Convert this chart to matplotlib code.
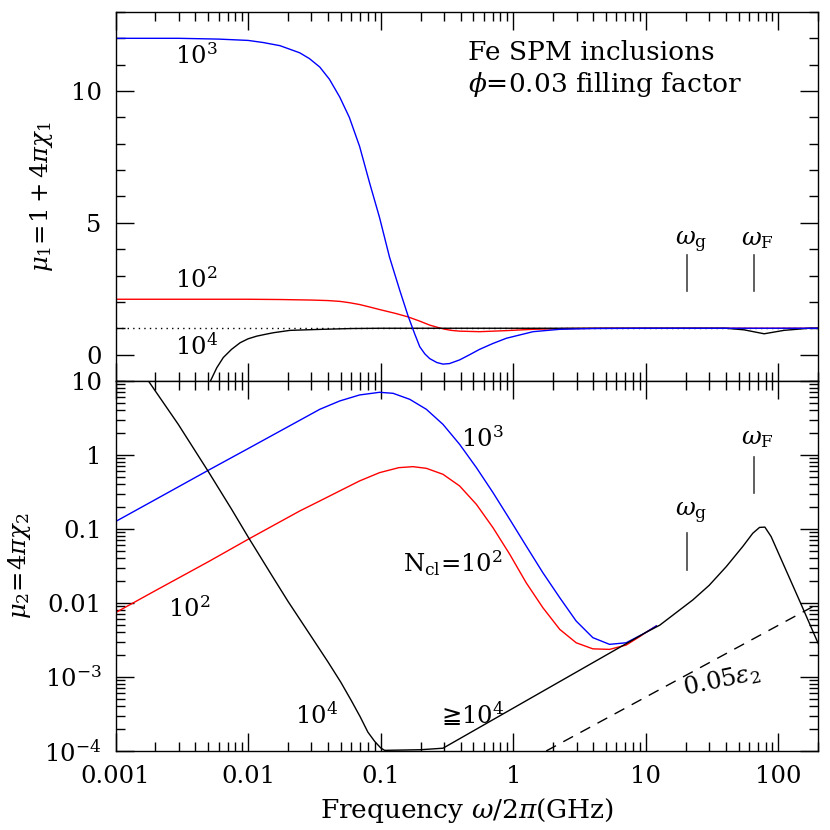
import numpy as np
import matplotlib
matplotlib.use("Agg")
import matplotlib.pyplot as plt
from matplotlib.ticker import LogLocator, MultipleLocator, NullFormatter

plt.rcParams["font.family"] = ["DejaVu Serif", "DejaVu Sans"]
plt.rcParams["mathtext.fontset"] = "dejavuserif"

# ---- data (frequency in GHz) ----
# upper panel: mu_1
top_blue_f = [0.001, 0.003, 0.006, 0.01, 0.013, 0.0174, 0.02, 0.0245, 0.029, 0.0347, 0.041,
              0.0491, 0.058, 0.0693, 0.0826, 0.098, 0.1165, 0.139, 0.161, 0.18, 0.197,
              0.215, 0.234, 0.265, 0.295, 0.33, 0.394, 0.47, 0.557, 0.7, 0.886, 1.41,
              2.24, 4.0, 10, 200]
top_blue_v = [12.0, 12.0, 11.97, 11.92, 11.84, 11.72, 11.61, 11.45, 11.23, 10.91, 10.45,
              9.77, 9.0, 7.9, 6.5, 5.2, 3.7, 2.45, 1.46, 0.8, 0.3,
              0.03, -0.15, -0.3, -0.36, -0.34, -0.2, 0.0, 0.2, 0.42, 0.62, 0.87,
              0.96, 0.99, 1.0, 1.0]

top_red_f = [0.001, 0.01, 0.0174, 0.03, 0.04, 0.0491, 0.058, 0.0693, 0.082, 0.098, 0.13,
             0.161, 0.197, 0.234, 0.27, 0.3, 0.34, 0.394, 0.557, 0.886, 1.41, 2.5, 5.0, 200]
top_red_v = [2.1, 2.1, 2.09, 2.07, 2.05, 2.02, 1.97, 1.9, 1.81, 1.71, 1.56,
             1.43, 1.27, 1.12, 1.03, 0.97, 0.92, 0.89, 0.87, 0.91, 0.96, 0.99, 1.0, 1.0]

top_black_f = [0.0052, 0.0058, 0.0065, 0.0075, 0.0087, 0.01, 0.0116, 0.0135, 0.0155, 0.0207,
               0.0365, 0.06, 0.1, 40, 55, 78, 110, 170, 200]
top_black_v = [-1.0, -0.5, -0.11, 0.2, 0.45, 0.6, 0.70, 0.77, 0.83, 0.92,
               0.96, 0.99, 1.0, 1.0, 0.94, 0.79, 0.92, 1.0, 1.0]

# lower panel: mu_2
bot_blue_f = [0.001, 0.002, 0.005, 0.01, 0.0245, 0.0347, 0.0491, 0.0693, 0.098, 0.124,
              0.1656, 0.221, 0.295, 0.394, 0.527, 0.703, 0.94, 1.25, 1.67, 2.24, 2.98,
              3.98, 5.32, 7.1, 8.96, 10, 12]
bot_blue_v = [0.126, 0.25, 0.62, 1.22, 2.94, 4.14, 5.37, 6.47, 7.03, 6.81,
              5.65, 4.14, 2.59, 1.39, 0.674, 0.31, 0.135, 0.059, 0.0257, 0.0118, 0.0057,
              0.0034, 0.00276, 0.0029, 0.0036, 0.004, 0.0049]

bot_red_f = [0.001, 0.002, 0.005, 0.01, 0.0245, 0.0347, 0.0491, 0.0693, 0.098, 0.137,
             0.175, 0.221, 0.295, 0.394, 0.527, 0.703, 0.94, 1.25, 1.67, 2.24, 2.98,
             3.98, 5.32, 7.1, 8.96, 10, 12]
bot_red_v = [0.0074, 0.0147, 0.036, 0.0725, 0.175, 0.239, 0.327, 0.446, 0.577, 0.674,
             0.695, 0.66, 0.548, 0.381, 0.215, 0.104, 0.0455, 0.0188, 0.00865, 0.0044,
             0.0029, 0.0024, 0.00236, 0.0027, 0.0035, 0.004, 0.0049]

bot_black_f = [0.00177, 0.00297, 0.005, 0.0075, 0.01, 0.015, 0.02, 0.03, 0.04, 0.05,
               0.06, 0.07, 0.08, 0.09, 0.1, 0.107, 0.2, 0.295, 4.48, 10,
               12.7, 22.6, 30, 40.4, 53.8, 64, 72, 79, 88, 146, 200]
bot_black_v = [10, 2.6, 0.6, 0.185, 0.078, 0.024, 0.0105, 0.0035, 0.0016, 8.5e-4,
               4.8e-4, 2.9e-4, 1.8e-4, 1.35e-4, 1.1e-4, 1.02e-4, 1.04e-4, 1.09e-4,
               0.00176, 0.004, 0.005, 0.011, 0.0173, 0.031, 0.058,
               0.0875, 0.105, 0.106, 0.079, 0.0102, 0.0028]

eps_f = [1.77, 200]
eps_v = [1e-4, 0.0098]

omega_g = 20.6
omega_F = 65.0

x_ticks = [0.001, 0.01, 0.1, 1, 10, 100]
x_tick_labels = ["0.001", "0.01", "0.1", "1", "10", "100"]
top_y_ticks = [0, 5, 10]
top_y_tick_labels = ["0", "5", "10"]
bot_y_ticks = [1e-4, 1e-3, 0.01, 0.1, 1, 10]
bot_y_tick_labels = ["$10^{-4}$", "$10^{-3}$", "0.01", "0.1", "1", "10"]

FS = 17.5
FS_TXT = 19
LW = 1.0

fig = plt.figure(figsize=(8.3, 8.3), dpi=100)
ax1 = fig.add_axes([0.1392, 0.5410, 0.8468, 0.4446])
ax2 = fig.add_axes([0.1392, 0.0952, 0.8468, 0.4458])

for ax in (ax1, ax2):
    ax.set_xscale("log")
    ax.set_xlim(0.001, 200)
    ax.xaxis.set_minor_locator(LogLocator(base=10, subs=np.arange(2, 10), numticks=30))
    ax.xaxis.set_minor_formatter(NullFormatter())
    ax.tick_params(which="both", direction="in", top=True, right=True, width=1.0)
    ax.tick_params(which="major", length=13, labelsize=FS, pad=10)
    ax.tick_params(which="minor", length=6.5)
    for sp in ax.spines.values():
        sp.set_linewidth(1.0)

# ---- upper panel ----
ax1.set_ylim(-1, 13)
ax1.axhline(1.0, color="black", lw=1.0, ls=(0, (1, 3)))
ax1.plot(top_red_f, top_red_v, color="red", lw=LW)
ax1.plot(top_black_f, top_black_v, color="black", lw=LW)
ax1.plot(top_blue_f, top_blue_v, color="blue", lw=LW)
ax1.set_yticks(top_y_ticks, top_y_tick_labels)
ax1.yaxis.set_minor_locator(MultipleLocator(1))
ax1.set_xticks(x_ticks, [""] * len(x_ticks))
ax1.set_ylabel(r"$\mu_1\!=\!1+4\pi\chi_1$", fontsize=FS)
ax1.yaxis.set_label_coords(-0.086, 0.5)

ax1.text(0.0028, 11.03, "$10^3$", fontsize=FS)
ax1.text(0.0028, 2.53, "$10^2$", fontsize=FS)
ax1.text(0.0028, 0.01, "$10^4$", fontsize=FS)
ax1.text(0.453, 11.19, "Fe SPM inclusions", fontsize=FS_TXT)
ax1.text(0.453, 9.96, r"$\phi$=0.03 filling factor", fontsize=FS_TXT)
ax1.plot([omega_g, omega_g], [2.4, 3.78], color="#444444", lw=1.2)
ax1.plot([omega_F, omega_F], [2.4, 3.78], color="#444444", lw=1.2)
ax1.text(16.5, 4.17, r"$\omega_{\rm g}$", fontsize=FS)
ax1.text(52.4, 4.17, r"$\omega_{\rm F}$", fontsize=FS)

# ---- lower panel ----
ax2.set_yscale("log")
ax2.set_ylim(1e-4, 10)
ax2.plot(eps_f, eps_v, color="black", lw=LW, ls=(0, (8, 6)))
ax2.plot(bot_red_f, bot_red_v, color="red", lw=LW)
ax2.plot(bot_blue_f, bot_blue_v, color="blue", lw=LW)
ax2.plot(bot_black_f, bot_black_v, color="black", lw=LW)
ax2.set_xticks(x_ticks, x_tick_labels)
ax2.set_yticks(bot_y_ticks, bot_y_tick_labels)
ax2.yaxis.set_minor_locator(LogLocator(base=10, subs=np.arange(2, 10), numticks=30))
ax2.yaxis.set_minor_formatter(NullFormatter())
ax2.set_ylabel(r"$\mu_2\!=\!4\pi\chi_2$", fontsize=FS)
ax2.yaxis.set_label_coords(-0.117, 0.5)
ax2.set_xlabel(r"Frequency $\omega/2\pi$(GHz)", fontsize=FS_TXT, labelpad=6)

ax2.text(0.406, 1.27, "$10^3$", fontsize=FS)
ax2.text(0.147, 0.0265, r"N$_{\rm cl}$=10$^2$", fontsize=FS)
ax2.text(0.0025, 0.00653, "$10^2$", fontsize=FS)
ax2.text(0.0226, 2.37e-4, "$10^4$", fontsize=FS)
ax2.text(0.287, 2.37e-4, "\u2267$10^4$", fontsize=FS, family=["DejaVu Sans", "DejaVu Serif"])
ax2.text(19.6, 5.7e-4, r"0.05$\epsilon_2$", fontsize=FS, rotation=12, rotation_mode="anchor")
ax2.plot([omega_g, omega_g], [0.028, 0.0875], color="#444444", lw=1.2)
ax2.plot([omega_F, omega_F], [0.31, 0.95], color="#444444", lw=1.2)
ax2.text(16.5, 0.147, r"$\omega_{\rm g}$", fontsize=FS)
ax2.text(52.4, 1.41, r"$\omega_{\rm F}$", fontsize=FS)

fig.savefig("out.png", dpi=100)
